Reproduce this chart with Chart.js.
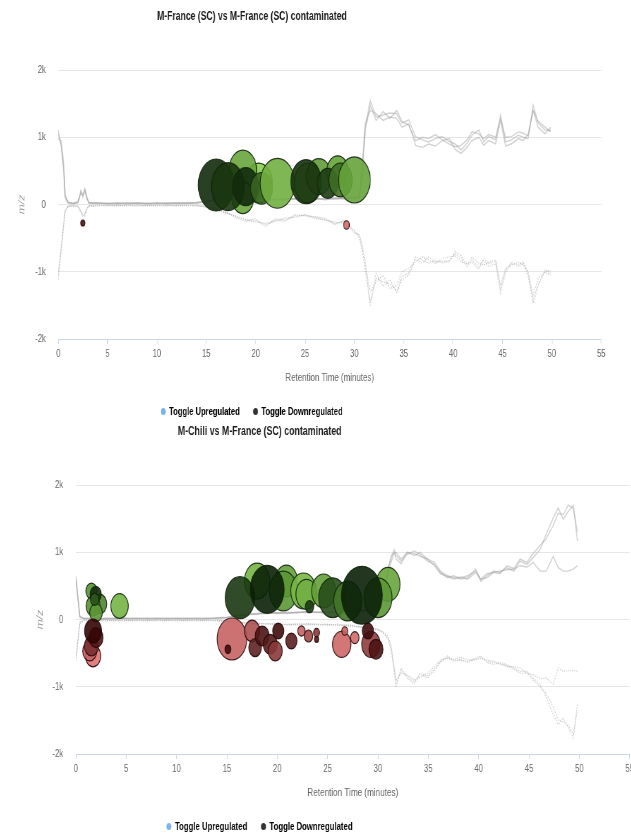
<!DOCTYPE html>
<html>
<head>
<meta charset="utf-8">
<title>Retention time vs m/z</title>
<script src="https://cdn.jsdelivr.net/npm/chart.js@4.4.1/dist/chart.umd.min.js"></script>
<style>
  body { margin: 0; width: 631px; height: 833px; overflow: hidden; position: relative; background: #fff; }
  canvas { position: absolute; }
</style>
</head>
<body>
<canvas id="chart1" width="1043" height="427" style="left:-99px;top:0;width:719px;height:427px"></canvas>
<canvas id="chart2" width="1084" height="427" style="left:-114px;top:415px;width:765px;height:427px"></canvas>
<script>
// Axes
const xTicks = [0, 5, 10, 15, 20, 25, 30, 35, 40, 45, 50, 55];
const xTickLabels = ['0', '5', '10', '15', '20', '25', '30', '35', '40', '45', '50', '55'];
const yTicks = [-2000, -1000, 0, 1000, 2000];
const yTickLabels = ['-2k', '-1k', '0', '1k', '2k'];
const legendLabels = ['Toggle Upregulated', 'Toggle Downregulated'];

// Chart 1: M-France (SC) vs M-France (SC) contaminated
const rt1 = [0, 0.3, 0.55, 0.7, 1, 1.5, 2, 2.3, 2.5, 2.7, 2.9, 3.1, 3.5,
  4, 5, 6, 7, 8, 9, 10, 11, 12, 13, 14, 15, 16, 17, 18, 19, 20, 21, 22, 23, 24, 25, 26, 27, 28, 29, 30,
  30.5, 30.8, 31.1, 31.6,
  32.2, 32.9, 33.6, 34.3, 34.8, 35.5, 36.2, 36.9, 37.5, 38.2, 38.9, 39.6, 40.2, 40.8, 41.4, 41.9, 42.6, 43.1, 43.6, 44.3,
  44.8, 45.3, 45.9, 46.6, 47.1, 47.6, 48.1, 48.6, 49.3, 49.9];
const c1TraceA = [1108, 860, 560, 100, 20, 10, 30, 190, 110, 240, 120, 20, 25,
  15, 20, 10, 25, 15, 20, 10, 25, 15, 20, 25, 40, 60, 80, 70, 90, 60, 80, 70, 90, 80, 70, 90, 80, 100, 90, 110,
  120, 660, 1160, 1550,
  1300, 1330, 1360, 1350, 1210, 1260, 1010, 960, 930, 980, 1010, 940, 900, 810, 910, 1030, 1110, 930, 1010, 960,
  1330, 930, 960, 1030, 1000, 980, 1480, 1210, 1110, 1100];
const c1TraceB = [1050, 900, 500, 120, 30, 20, 40, 160, 150, 200, 90, 30, 15,
  25, 10, 20, 15, 25, 10, 20, 15, 25, 15, 30, 50, 70, 60, 80, 70, 90, 60, 80, 70, 90, 80, 100, 70, 90, 80, 100,
  100, 400, 1200, 1400,
  1350, 1250, 1300, 1280, 1150, 1200, 880, 850, 900, 870, 950, 980, 820, 760, 850, 950, 1000, 880, 950, 900,
  1250, 870, 900, 980, 950, 1050, 1400, 1150, 1050, 1150];
const c1TraceC = [980, 940, 620, 150, 40, 15, 25, 210, 130, 220, 100, 25, 20,
  20, 15, 25, 10, 20, 15, 25, 10, 20, 25, 20, 45, 65, 75, 85, 75, 70, 90, 80, 75, 85, 95, 75, 90, 85, 95, 105,
  110, 550, 1100, 1480,
  1250, 1380, 1280, 1400, 1240, 1180, 950, 1000, 980, 1040, 960, 900, 860, 880, 960, 1080, 1050, 980, 1040, 1000,
  1280, 1000, 1010, 1080, 1060, 1020, 1400, 1240, 1150, 1080];
const c1MirrorA = [-1120, -630, -280, -90, -25, -15, -30, -130, -180, -150, -60, -20, -15,
  -10, -20, -15, -10, -20, -15, -10, -20, -15, -10, -20, -30, -60, -110, -200, -250, -210, -330, -210, -230, -170, -160, -180, -200, -300, -230, -430,
  -440, -630, -830, -1520,
  -1020, -1220, -1120, -1320, -1070, -1020, -780, -830, -870, -830, -870, -830, -730, -800, -920, -830, -920, -830, -920, -880,
  -1320, -1020, -880, -920, -880, -1070, -1470, -1220, -970, -1020];
const c1MirrorB = [-1000, -700, -320, -110, -30, -20, -25, -100, -160, -170, -80, -25, -20,
  -15, -10, -20, -15, -10, -20, -15, -10, -20, -15, -10, -35, -70, -130, -170, -230, -260, -280, -250, -200, -190, -150, -210, -230, -260, -280, -380,
  -500, -700, -900, -1300,
  -1150, -1050, -1250, -1200, -1000, -950, -850, -780, -820, -880, -800, -780, -760, -850, -880, -790, -870, -900, -860, -820,
  -1200, -950, -900, -860, -900, -1000, -1350, -1100, -1000, -980];
const c1MirrorC = [-1050, -660, -300, -100, -20, -25, -20, -110, -150, -140, -70, -15, -25,
  -20, -15, -10, -20, -15, -10, -20, -15, -10, -20, -15, -40, -80, -120, -180, -220, -240, -300, -230, -250, -150, -170, -190, -220, -280, -250, -400,
  -460, -650, -1000, -1450,
  -1100, -1150, -1180, -1280, -1120, -1050, -820, -870, -780, -860, -840, -860, -700, -760, -880, -860, -960, -800, -880, -840,
  -1250, -980, -860, -900, -850, -1030, -1420, -1180, -1010, -1050];

const up1X = [20.3, 25.3, 18.7, 18.7, 16.0, 17.2, 19.0, 20.6, 22.2, 26.4, 28.3, 25.1, 27.3, 28.6, 30.0];
const up1Y = [320, 320, 513, 100, 290, 265, 265, 240, 315, 414, 488, 340, 315, 365, 365];
const up1Z = [44, 44, 44, 28, 75, 64, 40, 28, 69, 36, 28, 54, 25, 32, 59];
const up1Fold = [1.0, 1.0, 2.3, 2.3, 4.8, 4.6, 4.8, 3.8, 2.0, 2.6, 2.4, 4.7, 4.5, 3.6, 2.4];
const down1X = [2.5, 29.2];
const down1Y = [-275, -305];
const down1Z = [1, 2];
const down1Fold = [-4.5, -1.6];

// Chart 2: M-Chili vs M-France (SC) contaminated
const rt2 = [0, 0.4, 0.8, 1.5, 2, 3,
  4, 5, 6, 7, 8, 9, 10, 11, 12, 13, 14, 15, 16, 17, 18, 19, 20, 21, 22, 23, 24, 25, 26, 27, 28, 29, 30,
  30.5, 31.0, 31.3, 31.6, 31.8,
  32.3, 32.9, 33.6, 34.2, 34.9, 35.6, 36.2, 36.9, 37.5, 38.2, 38.9, 39.7, 40.2, 40.8, 41.5, 42.1, 42.8, 43.5, 44.1, 44.8,
  45.4, 46.1, 46.7, 47.4, 47.9, 48.4, 48.9, 49.4, 49.8];
const c2TraceA = [650, 30, 10, 15, 10, 20,
  15, 10, 20, 15, 10, 20, 15, 10, 20, 15, 20, 30, 60, 80, 90, 100, 90, 110, 100, 120, 110, 100, 120, 130, 120, 140, 200,
  300, 770, 900, 1040, 950,
  870, 970, 1020, 970, 870, 820, 700, 620, 650, 600, 620, 750, 570, 650, 720, 700, 770, 720, 870, 820,
  920, 1040, 1270, 1510, 1660, 1490, 1610, 1700, 1170];
const c2TraceB = [600, 50, 20, 10, 15, 10,
  20, 15, 10, 20, 15, 10, 20, 15, 10, 20, 15, 25, 50, 70, 80, 90, 100, 90, 110, 100, 110, 120, 100, 120, 130, 150, 250,
  350, 700, 850, 980, 1000,
  900, 1000, 950, 1000, 900, 850, 720, 650, 620, 630, 600, 700, 600, 620, 700, 720, 740, 750, 800, 780,
  850, 720, 720, 940, 770, 720, 720, 750, 800];
const c2TraceC = [620, 40, 15, 20, 10, 15,
  10, 20, 15, 10, 20, 15, 10, 20, 15, 10, 25, 35, 55, 75, 85, 95, 105, 95, 105, 115, 105, 95, 115, 125, 135, 130, 220,
  320, 740, 950, 1000, 900,
  830, 1000, 980, 940, 900, 800, 680, 640, 600, 620, 650, 720, 600, 680, 700, 680, 800, 760, 900, 850,
  980, 1100, 1200, 1400, 1580, 1560, 1700, 1650, 1300];
const c2MirrorA = [-620, -40, -15, -10, -20, -15,
  -10, -20, -15, -10, -20, -15, -10, -20, -15, -10, -20, -25, -40, -60, -50, -70, -60, -80, -70, -60, -80, -70, -90, -80, -100, -120, -150,
  -200, -270, -420, -770, -1010,
  -720, -870, -960, -820, -870, -770, -620, -540, -620, -590, -640, -570, -540, -640, -670, -640, -670, -720, -770, -770,
  -870, -960, -1160, -1410, -1560, -1460, -1610, -1760, -1260];
const c2MirrorB = [-550, -60, -20, -15, -10, -20,
  -15, -10, -20, -15, -10, -20, -15, -10, -20, -15, -10, -20, -35, -55, -65, -60, -75, -70, -65, -80, -75, -85, -70, -90, -110, -130, -160,
  -180, -250, -380, -700, -900,
  -800, -820, -900, -860, -800, -700, -600, -580, -600, -560, -600, -600, -580, -600, -620, -660, -700, -700, -720, -800,
  -820, -880, -870, -960, -720, -770, -760, -760, -770];
const c2MirrorC = [-580, -50, -10, -20, -15, -10,
  -20, -15, -10, -20, -15, -10, -20, -15, -10, -20, -15, -30, -45, -50, -60, -65, -70, -75, -80, -70, -65, -75, -80, -95, -105, -125, -140,
  -190, -300, -450, -720, -950,
  -760, -840, -930, -800, -840, -740, -640, -560, -600, -610, -620, -590, -560, -620, -640, -660, -690, -740, -800, -790,
  -900, -1000, -1100, -1300, -1500, -1520, -1580, -1700, -1350];

const up2X = [1.55, 2.37, 1.71, 2.0, 1.97, 1.87, 4.34, 18.0, 20.9, 20.6, 16.3, 19.0, 22.6, 22.9, 23.2, 24.6, 25.5, 27.0, 31.0, 30.0, 28.4];
const up2Y = [424, 230, 200, 101, 375, 300, 200, 572, 572, 424, 324, 449, 424, 375, 190, 424, 324, 275, 523, 324, 360];
const up2Z = [7, 11, 11, 9, 7, 4, 17, 36, 28, 44, 49, 64, 36, 25, 4, 32, 44, 44, 32, 44, 93];
const up2Fold = [3.0, 3.2, 3.0, 2.8, 4.8, 4.0, 1.8, 1.8, 2.5, 2.8, 4.6, 5.0, 1.7, 2.0, 4.5, 2.5, 4.2, 3.5, 2.3, 2.8, 5.0];
const down2X = [1.71, 1.38, 1.55, 2.0, 1.71, 15.5, 15.1, 17.5, 17.8, 18.5, 19.3, 19.8, 20.1, 21.4, 22.4, 23.1, 23.9, 23.9, 26.4, 26.7, 27.7, 29.3, 29.0, 29.8];
const down2Y = [-543, -468, -394, -270, -171, -290, -443, -171, -419, -245, -369, -468, -171, -320, -171, -245, -196, -295, -369, -171, -270, -369, -171, -443];
const down2Z = [13, 11, 11, 11, 16, 49, 2, 13, 9, 11, 11, 11, 7, 7, 3, 4, 2, 1, 19, 2, 4, 19, 7, 11];
const down2Fold = [-1.3, -2.0, -3.8, -4.5, -5.0, -2.0, -4.8, -2.8, -4.2, -4.6, -4.4, -3.5, -4.8, -4.3, -2.0, -3.0, -3.5, -4.5, -1.8, -2.0, -1.7, -3.4, -4.8, -4.6];

Chart.defaults.font.family = '"Liberation Sans", Arial, sans-serif';

const greenStops = [[140, 205, 80], [85, 145, 50], [10, 32, 8]];
const redStops = [[232, 122, 122], [165, 75, 75], [52, 6, 6]];

// fold change 1..5 mapped onto a 3 stop colour ramp
function foldColor(fold, stops) {
  const t = Math.min(1, Math.max(0, (Math.abs(fold) - 1) / 4)) * 2;
  const a = t < 1 ? stops[0] : stops[1];
  const b = t < 1 ? stops[1] : stops[2];
  const f = t < 1 ? t : t - 1;
  const c = a.map((v, i) => Math.round(v + (b[i] - v) * f));
  return `rgba(${c[0]},${c[1]},${c[2]},0.9)`;
}

// bubble radius from abundance, area scaled like highcharts
function radiusFor(z) {
  return 30 * Math.sqrt(z / 100);
}

function bubbleSet(label, xs, ys, zs, folds, stops, border, order) {
  return {
    type: 'bubble',
    label: label,
    data: xs.map((x, i) => ({ x: x, y: ys[i], r: radiusFor(zs[i]) })),
    backgroundColor: ctx => ctx.dataIndex === undefined ? border : foldColor(folds[ctx.dataIndex], stops),
    borderColor: border,
    borderWidth: 1.2,
    order: order
  };
}

function traceSet(rt, vals, dotted) {
  return {
    type: 'line',
    data: rt.map((t, i) => ({ x: t, y: vals[i] })),
    borderColor: dotted ? 'rgba(175,175,175,0.6)' : 'rgba(165,165,165,0.5)',
    borderWidth: dotted ? 1.2 : 1.4,
    borderDash: dotted ? [1.5, 1.5] : [],
    pointRadius: 0,
    tension: 0,
    order: 3
  };
}

function makeChart(id, opts) {
  const datasets = [
    bubbleSet(legendLabels[0], opts.upX, opts.upY, opts.upZ, opts.upFold, greenStops, 'rgba(18,36,12,0.9)', 1),
    bubbleSet(legendLabels[1], opts.downX, opts.downY, opts.downZ, opts.downFold, redStops, 'rgba(40,8,8,0.9)', 0)
  ];
  opts.traces.forEach(v => datasets.push(traceSet(opts.rt, v, false)));
  opts.mirrors.forEach(v => datasets.push(traceSet(opts.rt, v, true)));

  return new Chart(document.getElementById(id), {
    type: 'bubble',
    data: { datasets: datasets },
    options: {
      responsive: false,
      animation: false,
      events: [],
      layout: { padding: { right: 25 } },
      plugins: {
        title: {
          display: true,
          text: opts.title,
          color: '#1a1a1a',
          font: { size: 12.5, weight: 'bold' },
          padding: { top: 9.5, bottom: 45.5 }
        },
        legend: {
          position: 'bottom',
          labels: {
            usePointStyle: true,
            boxWidth: 6,
            boxHeight: 5,
            padding: 20,
            color: '#333',
            font: { size: 11, weight: 'bold' },
            generateLabels: chart => legendLabels.map((text, i) => ({
              text: text,
              fillStyle: i === 0 ? '#7cb5ec' : '#333333',
              strokeStyle: i === 0 ? '#7cb5ec' : '#333333',
              lineWidth: 0,
              pointStyle: 'circle',
              hidden: !chart.isDatasetVisible(i),
              datasetIndex: i
            }))
          }
        },
        tooltip: { enabled: false }
      },
      scales: {
        x: {
          type: 'linear',
          min: 0,
          max: 55,
          afterBuildTicks: s => { s.ticks = xTicks.map(v => ({ value: v })); },
          afterFit: s => { s.height = 47; },
          ticks: {
            autoSkip: false,
            maxRotation: 0,
            padding: 3,
            color: '#666',
            font: { size: 11 },
            callback: (v, i) => xTickLabels[i]
          },
          grid: { drawOnChartArea: false, drawTicks: true, tickLength: 5, tickColor: '#ccd6eb' },
          border: { color: '#ccd6eb' },
          title: {
            display: true,
            text: 'Retention Time (minutes)',
            color: '#666',
            font: { size: 11.5 },
            padding: { top: 4, bottom: 1.4 }
          }
        },
        y: {
          min: -2000,
          max: 2000,
          afterBuildTicks: s => { s.ticks = yTicks.map(v => ({ value: v })); },
          afterFit: s => { s.width = opts.axisWidth; },
          ticks: {
            padding: 18,
            color: '#666',
            font: { size: 11 },
            callback: (v, i) => yTickLabels[i]
          },
          grid: { color: '#e6e6e6', drawTicks: false },
          border: { display: false },
          title: {
            display: true,
            text: 'm/z',
            color: '#999',
            font: { size: 12, style: 'italic' },
            padding: { top: opts.titlePad, bottom: 0 }
          }
        }
      }
    }
  });
}

makeChart('chart1', {
  title: 'M-France (SC) vs M-France (SC) contaminated',
  axisWidth: 228, titlePad: 168,
  rt: rt1, traces: [c1TraceA, c1TraceB, c1TraceC], mirrors: [c1MirrorA, c1MirrorB, c1MirrorC],
  upX: up1X, upY: up1Y, upZ: up1Z, upFold: up1Fold,
  downX: down1X, downY: down1Y, downZ: down1Z, downFold: down1Fold
});

makeChart('chart2', {
  title: 'M-Chili vs M-France (SC) contaminated',
  axisWidth: 269, titlePad: 211,
  rt: rt2, traces: [c2TraceA, c2TraceB, c2TraceC], mirrors: [c2MirrorA, c2MirrorB, c2MirrorC],
  upX: up2X, upY: up2Y, upZ: up2Z, upFold: up2Fold,
  downX: down2X, downY: down2Y, downZ: down2Z, downFold: down2Fold
});
</script>
</body>
</html>
